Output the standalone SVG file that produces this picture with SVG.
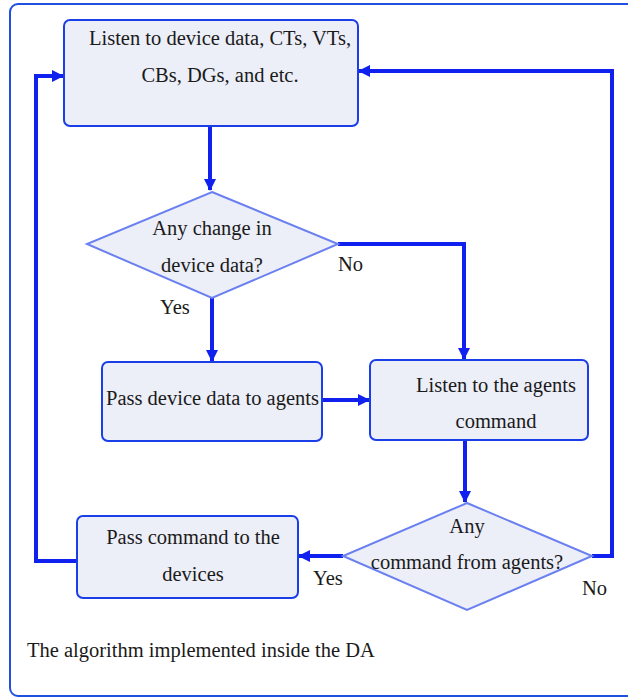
<svg xmlns="http://www.w3.org/2000/svg" width="628" height="698" viewBox="0 0 628 698">
  <defs>
    <marker id="arrow" markerWidth="12" markerHeight="12" refX="11" refY="6" orient="auto" markerUnits="userSpaceOnUse">
      <path d="M0,0 L12,6 L0,12 Z" fill="#1020ee"/>
    </marker>
  </defs>
  <style>
    .frame { fill: #ffffff; stroke: #2050e0; stroke-width: 2; }
    .box { fill: #eceef8; stroke: #1a3ee8; stroke-width: 2; }
    .dia { fill: #eceef8; stroke: #6a80f0; stroke-width: 2; }
    .edge { fill: none; stroke: #1020ee; stroke-width: 4; }
    .t { font-size: 20.5px; fill: #1a1a1a; }
  </style>

  <!-- outer frame -->
  <rect class="frame" x="10" y="4" width="630" height="692" rx="8"/>

  <!-- connectors -->
  <g id="connectors">
    <path class="edge" d="M210,126 V190" marker-end="url(#arrow)"/>
    <path class="edge" d="M212,298 V361" marker-end="url(#arrow)"/>
    <path class="edge" d="M338,244 H464 V359" marker-end="url(#arrow)"/>
    <path class="edge" d="M322,400 H369" marker-end="url(#arrow)"/>
    <path class="edge" d="M465,440 V502" marker-end="url(#arrow)"/>
    <path class="edge" d="M343,556 H299" marker-end="url(#arrow)"/>
    <path class="edge" d="M592,556 H612 V71 H359" marker-end="url(#arrow)"/>
    <path class="edge" d="M77,561 H36 V76 H63" marker-end="url(#arrow)"/>
  </g>

  <g font-family="'Liberation Serif', 'Times New Roman', serif">
    <g id="listen-devices">
      <rect class="box" x="64" y="20" width="294" height="106" rx="6"/>
      <text class="t" x="220" y="45" text-anchor="middle">Listen to device data, CTs, VTs,</text>
      <text class="t" x="220" y="82" text-anchor="middle">CBs, DGs, and etc.</text>
    </g>

    <g id="change-decision">
      <polygon class="dia" points="212,192 338,244 212,298 87,244"/>
      <text class="t" x="212" y="235" text-anchor="middle">Any change in</text>
      <text class="t" x="212" y="272" text-anchor="middle">device data?</text>
    </g>

    <g id="pass-data">
      <rect class="box" x="102" y="362" width="220" height="79" rx="6"/>
      <text class="t" x="106" y="405">Pass device data to agents</text>
    </g>

    <g id="listen-agents">
      <rect class="box" x="370" y="360" width="218" height="80" rx="6"/>
      <text class="t" x="496" y="392" text-anchor="middle">Listen to the agents</text>
      <text class="t" x="496" y="428" text-anchor="middle">command</text>
    </g>

    <g id="command-decision">
      <polygon class="dia" points="467,503 592,556 467,610 343,556"/>
      <text class="t" x="467" y="533" text-anchor="middle">Any</text>
      <text class="t" x="467" y="569" text-anchor="middle">command from agents?</text>
    </g>

    <g id="pass-command">
      <rect class="box" x="77" y="516" width="221" height="82" rx="6"/>
      <text class="t" x="193" y="544" text-anchor="middle">Pass command to the</text>
      <text class="t" x="193" y="581" text-anchor="middle">devices</text>
    </g>

    <g id="labels">
      <text class="t" x="338" y="271">No</text>
      <text class="t" x="160" y="314">Yes</text>
      <text class="t" x="313" y="585">Yes</text>
      <text class="t" x="582" y="595">No</text>
      <text class="t" x="27" y="657">The algorithm implemented inside the DA</text>
    </g>
  </g>
</svg>
